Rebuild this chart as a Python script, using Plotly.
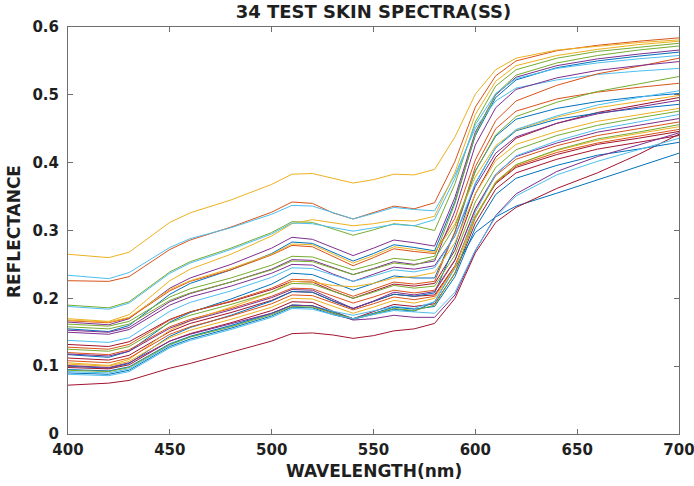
import plotly.graph_objects as go

wavelengths = [400, 420, 430, 450, 460, 480, 500, 510, 520, 530, 540, 550,
               560, 570, 580, 590, 600, 610, 620, 640, 660, 680, 700]

x_ticks = [400, 450, 500, 550, 600, 650, 700]
y_ticks = [0, 0.1, 0.2, 0.3, 0.4, 0.5, 0.6]
y_tick_labels = ["0", "0.1", "0.2", "0.3", "0.4", "0.5", "0.6"]

B1 = [.155, .151, .160, .206, .222, .242, .266, .283, .281, .268, .255, .266, .279, .275, .270, .343, .440, .496, .522, .540, .550, .557, .563]
O1 = [.226, .225, .232, .272, .286, .305, .327, .342, .340, .326, .317, .326, .336, .332, .341, .402, .482, .528, .550, .565, .573, .579, .584]
Y1 = [.265, .260, .268, .312, .326, .345, .368, .383, .384, .377, .370, .375, .383, .382, .390, .438, .501, .537, .554, .566, .572, .577, .581]
P1 = [.165, .161, .170, .215, .230, .250, .274, .290, .287, .275, .263, .274, .286, .282, .277, .349, .445, .500, .526, .543, .553, .560, .566]
G1 = [.190, .186, .195, .239, .254, .274, .297, .313, .312, .302, .293, .301, .310, .307, .300, .369, .460, .513, .537, .554, .564, .570, .576]
LB1 = [.234, .229, .238, .275, .288, .304, .324, .337, .336, .326, .317, .325, .334, .331, .329, .382, .451, .491, .510, .522, .530, .535, .539]
D1 = [.132, .129, .136, .169, .180, .195, .213, .225, .224, .211, .200, .210, .221, .218, .222, .271, .354, .408, .436, .458, .474, .485, .496]

B2 = [.117, .113, .122, .165, .179, .199, .221, .237, .235, .223, .212, .222, .233, .230, .230, .298, .388, .439, .464, .480, .490, .497, .502]
O2 = [.167, .164, .171, .211, .225, .242, .264, .278, .276, .262, .248, .260, .273, .269, .266, .318, .404, .462, .491, .514, .531, .542, .554]
Y2 = [.170, .166, .176, .226, .243, .265, .292, .310, .316, .312, .307, .310, .315, .314, .321, .386, .471, .520, .543, .558, .567, .574, .579]
P2 = [.153, .150, .157, .195, .207, .224, .243, .257, .256, .245, .235, .244, .254, .250, .255, .329, .426, .481, .508, .525, .536, .543, .549]
G2 = [.162, .159, .166, .202, .214, .230, .249, .262, .261, .251, .242, .250, .259, .256, .262, .340, .442, .501, .529, .547, .558, .566, .572]
LB2 = [.188, .184, .193, .237, .252, .272, .295, .311, .310, .304, .299, .304, .309, .307, .316, .377, .456, .502, .524, .539, .547, .553, .558]
D2 = [.112, .109, .116, .151, .163, .179, .197, .210, .209, .196, .185, .195, .206, .203, .205, .248, .321, .369, .393, .412, .427, .436, .446]

B3 = [.100, .097, .104, .144, .157, .175, .196, .210, .209, .196, .185, .195, .206, .203, .208, .278, .369, .422, .447, .464, .473, .480, .486]
O3 = [.128, .125, .132, .168, .180, .196, .215, .228, .227, .214, .203, .213, .224, .221, .225, .298, .394, .450, .476, .494, .504, .511, .517]
Y3 = [.168, .165, .172, .213, .226, .244, .265, .280, .279, .265, .252, .263, .276, .272, .268, .310, .379, .425, .448, .467, .481, .490, .499]
P3 = [.150, .147, .154, .190, .202, .218, .237, .250, .249, .236, .225, .235, .246, .243, .248, .292, .365, .414, .438, .458, .472, .482, .492]
G3 = [.158, .155, .162, .197, .208, .224, .242, .255, .254, .244, .235, .243, .252, .249, .258, .306, .387, .441, .468, .489, .505, .516, .527]
LB3 = [.138, .135, .142, .181, .194, .211, .231, .245, .244, .234, .225, .233, .242, .239, .245, .292, .370, .422, .449, .469, .485, .496, .506]
D3 = [.098, .096, .102, .137, .148, .164, .182, .195, .194, .181, .170, .180, .191, .188, .192, .237, .311, .361, .385, .405, .420, .430, .440]

B4 = [.090, .088, .094, .129, .140, .156, .174, .187, .186, .176, .169, .176, .184, .181, .195, .245, .297, .320, .336, .355, .375, .395, .414]
O4 = [.120, .117, .124, .158, .169, .185, .203, .215, .214, .203, .193, .202, .212, .208, .212, .257, .331, .381, .405, .425, .440, .450, .460]
Y4 = [.105, .101, .110, .153, .167, .187, .209, .225, .224, .219, .217, .222, .230, .232, .238, .282, .354, .403, .427, .446, .461, .470, .480]
P4 = [.118, .115, .122, .156, .167, .183, .201, .213, .212, .198, .185, .196, .209, .205, .210, .256, .332, .383, .409, .429, .445, .455, .465]
G4 = [.125, .122, .129, .164, .175, .191, .209, .222, .221, .210, .200, .209, .219, .215, .218, .264, .342, .393, .419, .440, .455, .466, .476]
LB4 = [.092, .090, .096, .131, .143, .159, .177, .190, .189, .181, .175, .181, .188, .185, .195, .245, .327, .383, .410, .432, .449, .460, .471]
D4 = [.072, .075, .079, .097, .104, .120, .137, .148, .149, .146, .141, .145, .152, .155, .163, .200, .267, .312, .334, .362, .385, .412, .442]

B5 = [.095, .093, .099, .133, .144, .160, .178, .190, .189, .179, .170, .178, .187, .184, .188, .232, .304, .353, .377, .396, .411, .420, .430]
O5 = [.108, .105, .112, .147, .158, .174, .192, .205, .204, .193, .183, .192, .202, .198, .203, .247, .321, .370, .395, .415, .429, .439, .449]
Y5 = [.103, .100, .107, .142, .153, .169, .187, .200, .199, .188, .178, .187, .197, .193, .200, .246, .321, .372, .397, .418, .433, .443, .453]
P5 = [.101, .098, .105, .137, .147, .162, .178, .190, .189, .178, .168, .170, .175, .172, .172, .205, .270, .322, .354, .387, .409, .426, .444]
G5 = [.094, .092, .098, .132, .143, .158, .176, .188, .187, .178, .170, .177, .185, .182, .190, .238, .318, .371, .397, .419, .435, .445, .456]
LB5 = [.088, .086, .092, .127, .138, .154, .172, .185, .184, .176, .170, .176, .182, .180, .178, .209, .271, .320, .351, .382, .402, .419, .436]

spectra = [B1, O1, Y1, P1, G1, LB1, D1,
           B2, O2, Y2, P2, G2, LB2, D2,
           B3, O3, Y3, P3, G3, LB3, D3,
           B4, O4, Y4, P4, G4, LB4, D4,
           B5, O5, Y5, P5, G5, LB5]

matlab_colors = ["#0072BD", "#D95319", "#EDB120", "#7E2F8E",
                 "#77AC30", "#4DBEEE", "#A2142F"]

fig = go.Figure()
for s in spectra:
    fig.add_trace(go.Scatter(x=wavelengths, y=s, mode="lines",
                             line=dict(width=1.0), showlegend=False,
                             hoverinfo="skip"))

axis_color = "#6e6e6e"
text_color = "#1f1f1f"
font_family = "DejaVu Sans, Verdana, sans-serif"

W, H = 694, 486
L, R, T, B = 68, 15, 27, 52
plot_w = W - L - R
plot_h = H - T - B

fig.update_layout(
    width=W, height=H,
    margin=dict(l=L, r=R, t=T, b=B, autoexpand=False),
    paper_bgcolor="white", plot_bgcolor="white",
    colorway=matlab_colors,
    font=dict(family=font_family, color=text_color),
    hovermode=False,
    title=dict(text="34 TEST SKIN SPECTRA(SS)", x=0.5, xref="paper",
               xanchor="center", y=1 - 11.5 / H, yref="container",
               yanchor="middle",
               font=dict(size=18, weight="bold", color=text_color)),
    annotations=[
        dict(text="WAVELENGTH(nm)", xref="paper", yref="paper",
             x=0.5, y=-37 / plot_h, xanchor="center", yanchor="middle",
             showarrow=False,
             font=dict(size=17, weight="bold", color=text_color)),
        dict(text="REFLECTANCE", xref="paper", yref="paper",
             x=-(L - 14) / plot_w, y=(434 - 232) / plot_h,
             xanchor="center", yanchor="middle", textangle=-90,
             showarrow=False,
             font=dict(size=17, weight="bold", color=text_color)),
    ],
)

fig.update_xaxes(
    range=[400, 700], tickvals=x_ticks, ticktext=[str(v) for v in x_ticks],
    showgrid=False, zeroline=False, automargin=False,
    showline=True, linecolor=axis_color, linewidth=1, mirror="ticks",
    ticks="inside", ticklen=5, tickcolor=axis_color,
    ticklabelstandoff=2, ticklabeloverflow="allow",
    tickfont=dict(size=15, weight="bold", color=text_color),
)
fig.update_yaxes(
    range=[0, 0.6], tickvals=y_ticks, ticktext=y_tick_labels,
    showgrid=False, zeroline=False, automargin=False,
    showline=True, linecolor=axis_color, linewidth=1, mirror="ticks",
    ticks="inside", ticklen=5, tickcolor=axis_color,
    ticklabelstandoff=5, ticklabeloverflow="allow",
    tickfont=dict(size=15, weight="bold", color=text_color),
)

fig.write_html("out.html", config={"displayModeBar": False},
               post_script="document.body.style.margin='0';")
